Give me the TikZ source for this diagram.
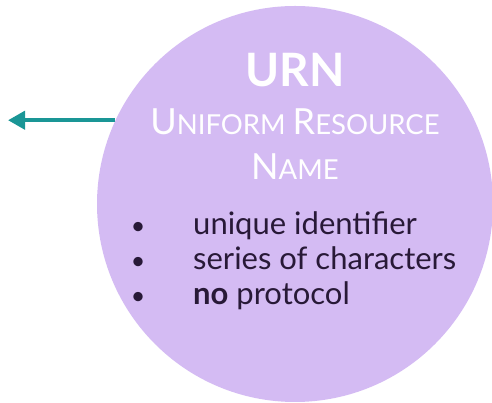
\documentclass[tikz,border=0pt]{standalone}
\usepackage{fontspec}
\setmainfont{Lato}
\usetikzlibrary{arrows.meta}
\definecolor{lavender}{RGB}{212,187,243}
\definecolor{tealarrow}{RGB}{26,150,150}
\definecolor{darkink}{RGB}{40,25,55}
% fake small caps: big initial, smaller rest
\newcommand\scword[2]{{\fontsize{36}{36}\selectfont #1}{\fontsize{27.5}{27.5}\selectfont #2}}
\tikzset{
  bubble/.style={
    circle,
    fill=lavender,
    inner sep=0pt,
    minimum size=396pt
  },
  title/.style={
    text=white,
    font=\bfseries\fontsize{46}{46}\selectfont
  },
  subtitle/.style={
    text=white,
    anchor=base,
    inner sep=0pt,
    font=\fontsize{27.5}{27.5}\selectfont
  },
  item/.style={
    text=darkink,
    anchor=base west,
    inner sep=0pt,
    font=\fontsize{31}{31}\selectfont
  },
  dot/.style={
    text=darkink,
    anchor=base,
    inner sep=0pt,
    font=\fontsize{25}{25}\selectfont
  },
  link/.style={
    draw=tealarrow,
    line width=4pt,
    -{Triangle[length=17pt,width=18pt]}
  }
}

\begin{document}
\begin{tikzpicture}[x=1pt,y=1pt]
  \useasboundingbox (0,0) rectangle (492,403);
  \node[bubble] (urn) at (295,199) {};
  \coordinate (out) at (8,281);
  \draw[link] (urn.155.5) -- (urn.155.5 -| out);

  \node[title] (name) at (295,333) {URN};
  \node[subtitle] (full1) at (295,268) {\scword{U}{NIFORM} \scword{R}{ESOURCE}};
  \node[subtitle] (full2) at (295,223) {\scword{N}{AME}};

  \node[dot] (d1) at (138,168) {\textbullet};
  \node[dot] (d2) at (138,133) {\textbullet};
  \node[dot] (d3) at (138,98) {\textbullet};
  \node[item] (i1) at (193,168) {unique identifier};
  \node[item] (i2) at (193,133) {series of characters};
  \node[item] (i3) at (193,98) {\textbf{no} protocol};
\end{tikzpicture}
\end{document}
